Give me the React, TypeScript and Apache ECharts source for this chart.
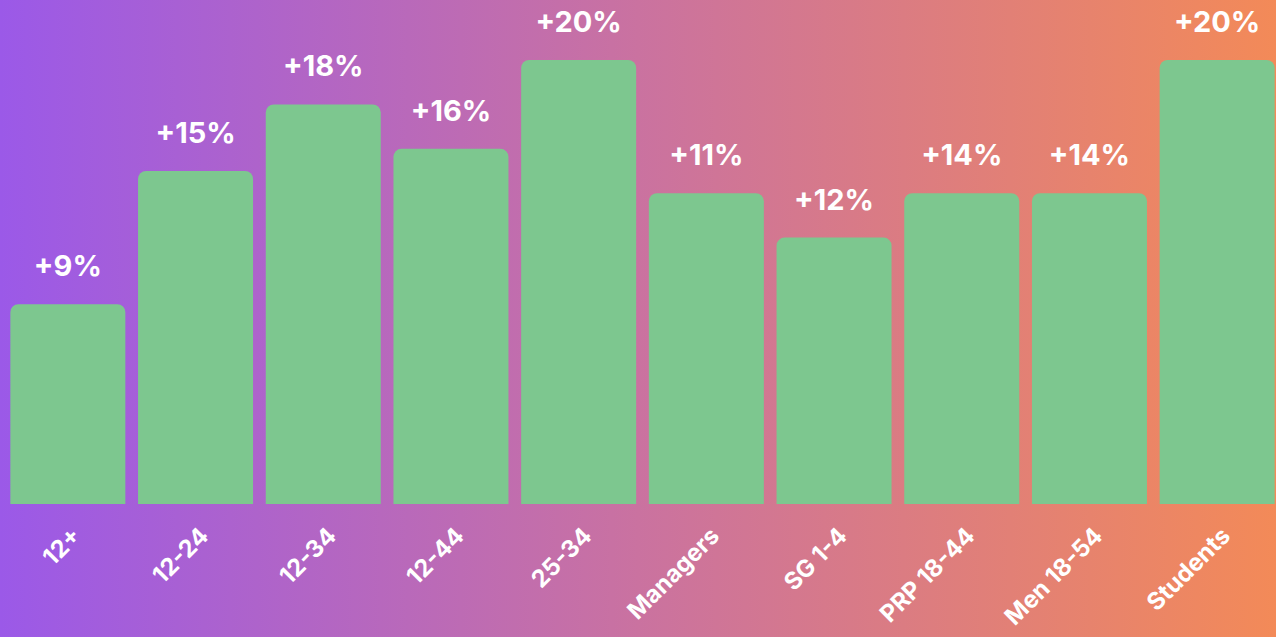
import React, { useEffect, useRef } from "react";
import * as echarts from "echarts";

const categories = ["12+", "12-24", "12-34", "12-44", "25-34", "Managers", "SG 1-4", "PRP 18-44", "Men 18-54", "Students"];
const barValues = [9, 15, 18, 16, 20, 14, 12, 14, 14, 20];
const valueLabels = ["+9%", "+15%", "+18%", "+16%", "+20%", "+11%", "+12%", "+14%", "+14%", "+20%"];

export default function App() {
  const ref = useRef<HTMLDivElement>(null);
  useEffect(() => {
    const chart = echarts.init(ref.current!, null, { renderer: "svg" });
    chart.setOption({
      animation: false,
      backgroundColor: new echarts.graphic.LinearGradient(0, 0, 1, 0, [
        { offset: 0, color: "#9b59e8" },
        { offset: 0.5, color: "#ca72a0" },
        { offset: 1, color: "#f38a58" },
      ]),
      grid: { left: 4, right: -5, top: 60, bottom: 133, containLabel: false, outerBoundsMode: "none" },
      xAxis: {
        type: "category",
        data: categories,
        axisLine: { show: false },
        axisTick: { show: false },
        axisLabel: {
          rotate: 45,
          margin: 19,
          verticalAlign: "top",
          color: "#ffffff",
          fontFamily: "Inter",
          fontWeight: "bold",
          fontSize: 24,
          interval: 0,
        },
      },
      yAxis: {
        type: "value",
        min: 0,
        max: 20,
        show: false,
        splitLine: { show: false },
      },
      series: [
        {
          type: "bar",
          data: barValues,
          barWidth: 115,
          itemStyle: { color: "#7dc78f", borderRadius: [8, 8, 0, 0] },
          label: {
            show: true,
            position: "top",
            distance: 24,
            color: "#ffffff",
            fontFamily: "Inter",
            fontWeight: "bold",
            fontSize: 29,
            formatter: (p: any) => valueLabels[p.dataIndex],
          },
        },
      ],
    });
    return () => chart.dispose();
  }, []);
  return <div ref={ref} style={{ position: "fixed", left: 0, top: 0, width: 1276, height: 637 }} />;
}
